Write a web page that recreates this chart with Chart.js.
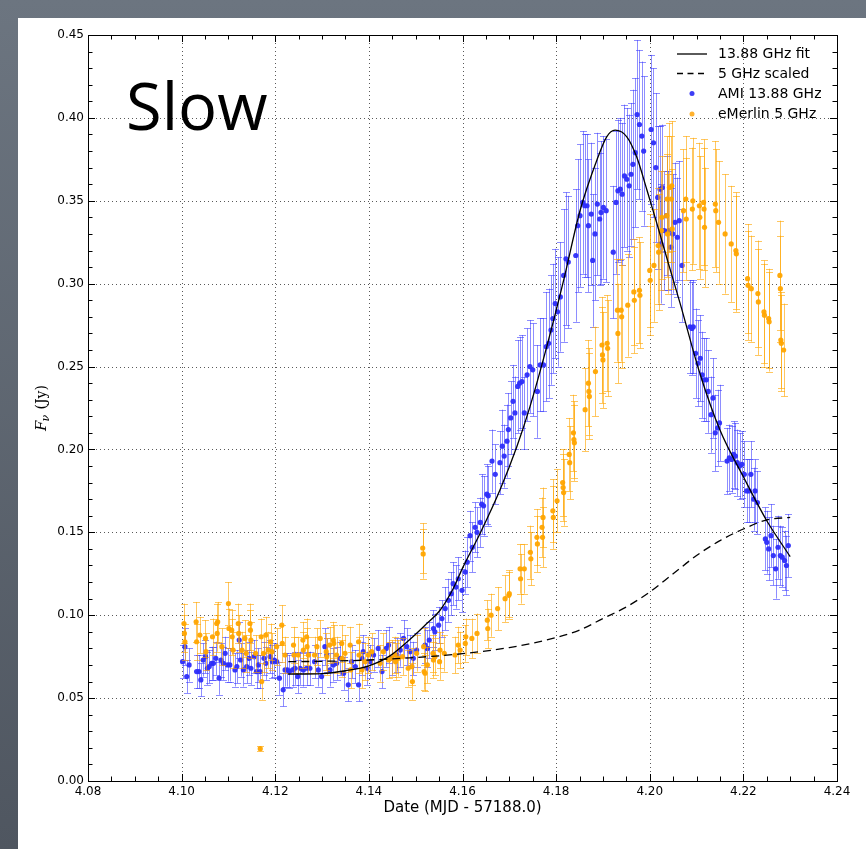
<!DOCTYPE html>
<html><head><meta charset="utf-8">
<script src="https://cdn.jsdelivr.net/npm/chart.js@4.4.0/dist/chart.umd.min.js"></script>
<style>
html,body{margin:0;padding:0;}
body{width:866px;height:849px;background:linear-gradient(#6c7580,#4f5660);position:relative;overflow:hidden;}
#card{position:absolute;left:18px;top:18px;width:848px;height:831px;background:#fff;}
canvas{position:absolute;left:0;top:0;}
</style></head>
<body><div id="card"></div><canvas id="c" width="866" height="849"></canvas>
<script>
const xTicks=[4.08,4.10,4.12,4.14,4.16,4.18,4.20,4.22,4.24];
const yTicks=[0.00,0.05,0.10,0.15,0.20,0.25,0.30,0.35,0.40,0.45];

const amiX=[
4.1002,4.1007,4.1011,4.1016,4.1032,4.1037,4.1041,4.1046,4.1051,4.1055,
4.1059,4.1064,4.1068,4.1073,4.1080,4.1084,4.1089,4.1093,4.1098,4.1103,
4.1114,4.1118,4.1123,4.1126,4.1132,4.1139,4.1144,4.1148,4.1155,4.1160,
4.1164,4.1168,4.1176,4.1180,4.1189,4.1194,4.1198,4.1203,4.1209,4.1217,
4.1221,4.1226,4.1230,4.1237,4.1242,4.1248,4.1253,4.1260,4.1267,4.1274,
4.1284,4.1292,4.1299,4.1306,4.1310,4.1317,4.1324,4.1331,4.1338,4.1346,
4.1356,4.1363,4.1371,4.1378,4.1385,4.1388,4.1396,4.1403,4.1410,4.1420,
4.1428,4.1437,4.1442,4.1449,4.1460,4.1467,4.1474,4.1481,4.1488,4.1495,
4.1502,4.1520,4.1525,4.1529,4.1538,4.1541,4.1549,4.1556,4.1563,4.1570,
4.1576,4.1580,4.1586,4.1591,4.1599,4.1606,4.1610,4.1616,4.1621,4.1627,
4.1631,4.1638,4.1641,4.1645,4.1652,4.1655,4.1663,4.1670,4.1680,4.1685,
4.1689,4.1695,4.1698,4.1703,4.1708,4.1712,4.1718,4.1722,4.1727,4.1732,
4.1738,4.1744,4.1750,4.1760,4.1766,4.1773,4.1779,4.1784,4.1789,4.1793,
4.1798,4.1803,4.1809,4.1816,4.1821,4.1826,4.1842,4.1846,4.1851,4.1857,
4.1861,4.1866,4.1869,4.1875,4.1878,4.1883,4.1888,4.1893,4.1896,4.1901,
4.1907,4.1922,4.1928,4.1932,4.1937,4.1941,4.1946,4.1951,4.1956,4.1960,
4.1964,4.1969,4.1973,4.1978,4.1983,4.1987,4.2003,4.2008,4.2013,4.2017,
4.2022,4.2024,4.2027,4.2031,4.2036,4.2040,4.2045,4.2049,4.2054,4.2059,
4.2063,4.2069,4.2086,4.2090,4.2093,4.2098,4.2103,4.2108,4.2112,4.2116,
4.2121,4.2125,4.2131,4.2135,4.2140,4.2145,4.2149,4.2165,4.2170,4.2175,
4.2179,4.2183,4.2187,4.2192,4.2197,4.2202,4.2207,4.2212,4.2216,4.2222,
4.2225,4.2230,4.2247,4.2250,4.2254,4.2259,4.2264,4.2269,4.2274,4.2279,
4.2283,4.2288,4.2292,4.2296];
const amiY=[
.072,.081,.063,.070,.066,.066,.061,.073,.075,.068,
.069,.071,.071,.074,.062,.073,.071,.077,.070,.070,
.067,.069,.085,.073,.067,.069,.074,.068,.075,.066,
.070,.066,.074,.071,.075,.072,.073,.072,.062,.055,
.067,.067,.066,.067,.068,.063,.068,.067,.068,.068,
.072,.067,.063,.081,.076,.067,.070,.071,.074,.065,
.058,.072,.069,.058,.074,.078,.068,.072,.076,.080,
.066,.080,.082,.074,.076,.079,.086,.081,.078,.074,
.079,.082,.080,.085,.092,.090,.094,.098,.104,.109,
.113,.119,.117,.122,.115,.126,.132,.148,.141,.153,
.150,.156,.167,.166,.173,.172,.193,.185,.192,.202,
.196,.205,.212,.219,.229,.222,.238,.240,.241,.222,
.245,.250,.248,.235,.251,.251,.262,.264,.272,.279,
.288,.283,.292,.305,.315,.313,.317,.335,.341,.349,
.347,.347,.335,.342,.314,.330,.348,.339,.343,.346,
.344,.319,.349,.356,.357,.354,.365,.363,.359,.366,
.372,.379,.402,.396,.389,.380,.393,.385,.370,.352,
.357,.324,.358,.332,.341,.332,.322,.330,.337,.328,
.338,.311,.274,.273,.274,.258,.252,.255,.245,.242,
.242,.235,.221,.231,.210,.213,.216,.193,.195,.194,
.197,.196,.192,.190,.191,.185,.175,.175,.185,.170,
.175,.168,.146,.144,.140,.148,.136,.128,.141,.136,
.135,.133,.130,.142];
const amiErr=[
.010,.011,.010,.010,.010,.010,.010,.010,.010,.010,
.010,.010,.010,.010,.010,.010,.010,.010,.010,.010,
.010,.010,.011,.010,.010,.010,.010,.010,.010,.010,
.010,.010,.010,.010,.010,.010,.010,.010,.010,.010,
.010,.010,.010,.010,.010,.010,.010,.010,.010,.010,
.010,.010,.010,.011,.010,.010,.010,.010,.010,.010,
.010,.010,.010,.010,.010,.010,.010,.010,.010,.011,
.010,.011,.011,.010,.010,.010,.011,.011,.010,.010,
.010,.011,.011,.011,.011,.011,.011,.011,.013,.013,
.013,.013,.013,.013,.013,.013,.015,.015,.015,.015,
.015,.015,.018,.018,.018,.018,.019,.018,.019,.022,
.019,.022,.022,.022,.022,.022,.028,.028,.028,.022,
.028,.028,.028,.028,.028,.028,.033,.033,.033,.033,
.033,.033,.033,.040,.040,.040,.040,.040,.043,.043,
.043,.043,.040,.043,.040,.040,.043,.040,.043,.043,
.043,.040,.043,.043,.043,.043,.043,.043,.043,.043,
.045,.045,.045,.045,.045,.045,.045,.045,.045,.043,
.038,.036,.038,.036,.036,.036,.036,.036,.036,.036,
.036,.034,.028,.028,.028,.027,.026,.026,.026,.025,
.025,.025,.023,.024,.023,.023,.023,.020,.020,.020,
.020,.020,.020,.020,.020,.020,.019,.019,.020,.019,
.019,.019,.019,.019,.019,.019,.018,.018,.019,.018,
.018,.018,.018,.019];

const emX=[
4.1005,4.1006,4.1007,4.1031,4.1032,4.1039,4.1051,4.1052,4.1066,4.1075,
4.1076,4.1077,4.1086,4.1100,4.1101,4.1107,4.1108,4.1110,4.1121,4.1122,
4.1129,4.1135,4.1138,4.1146,4.1147,4.1148,4.1158,4.1168,4.1170,4.1171,
4.1175,4.1180,4.1185,4.1190,4.1193,4.1203,4.1214,4.1215,4.1221,4.1239,
4.1240,4.1249,4.1259,4.1260,4.1267,4.1268,4.1271,4.1284,4.1289,4.1296,
4.1309,4.1310,4.1316,4.1324,4.1325,4.1331,4.1342,4.1343,4.1349,4.1360,
4.1361,4.1378,4.1379,4.1385,4.1392,4.1399,4.1406,4.1424,4.1431,4.1442,
4.1449,4.1456,4.1457,4.1463,4.1472,4.1484,4.1492,4.1493,4.1502,4.1515,
4.1516,4.1517,4.1518,4.1520,4.1525,4.1537,4.1538,4.1541,4.1551,4.1552,
4.1561,4.1584,4.1591,4.1595,4.1606,4.1607,4.1620,4.1631,4.1653,4.1654,
4.1661,4.1675,4.1691,4.1699,4.1700,4.1723,4.1724,4.1732,4.1745,4.1746,
4.1759,4.1760,4.1770,4.1771,4.1772,4.1793,4.1794,4.1802,4.1814,4.1815,
4.1816,4.1828,4.1829,4.1837,4.1838,4.1839,4.1862,4.1869,4.1870,4.1871,
4.1884,4.1898,4.1899,4.1900,4.1909,4.1910,4.1931,4.1932,4.1939,4.1940,
4.1953,4.1966,4.1967,4.1978,4.1979,4.2000,4.2001,4.2009,4.2018,4.2019,
4.2025,4.2026,4.2036,4.2037,4.2038,4.2042,4.2046,4.2047,4.2048,4.2072,
4.2077,4.2078,4.2091,4.2092,4.2106,4.2107,4.2115,4.2116,4.2117,4.2140,
4.2141,4.2147,4.2161,4.2174,4.2184,4.2185,4.2209,4.2210,4.2217,4.2231,
4.2232,4.2244,4.2245,4.2254,4.2255,4.2278,4.2279,4.2280,4.2281,4.2286];
const emY=[
.095,.089,.084,.096,.084,.088,.086,.078,.087,.095,
.089,.096,.081,.107,.092,.091,.087,.079,.095,.089,
.079,.086,.077,.095,.091,.085,.077,.0195,.087,.060,
.077,.088,.079,.084,.078,.081,.094,.083,.076,.082,
.076,.076,.085,.079,.087,.081,.076,.076,.081,.086,
.078,.075,.082,.085,.083,.076,.083,.074,.077,.082,
.067,.084,.076,.067,.072,.076,.078,.071,.078,.073,
.074,.076,.072,.074,.075,.068,.069,.060,.077,.1405,
.137,.081,.066,.065,.070,.077,.073,.075,.072,.079,
.077,.076,.082,.079,.083,.087,.086,.089,.097,.092,
.100,.104,.110,.112,.113,.128,.122,.128,.138,.134,
.147,.143,.153,.147,.159,.163,.159,.169,.180,.177,
.174,.197,.192,.210,.206,.204,.224,.240,.235,.232,
.247,.263,.257,.254,.264,.261,.284,.270,.284,.280,
.287,.295,.290,.296,.293,.308,.302,.311,.323,.319,
.332,.340,.341,.351,.330,.358,.351,.359,.333,.344,
.351,.339,.345,.350,.347,.340,.349,.345,.334,.348,
.344,.337,.330,.324,.320,.318,.303,.299,.297,.294,
.289,.283,.281,.279,.277,.305,.297,.266,.264,.260];
const emErr=[
.012,.011,.011,.012,.011,.011,.011,.011,.011,.012,
.011,.012,.011,.013,.012,.012,.011,.011,.012,.011,
.011,.011,.011,.012,.012,.011,.011,.0015,.011,.011,
.011,.011,.011,.011,.011,.011,.012,.011,.011,.011,
.011,.011,.011,.011,.011,.011,.011,.011,.011,.011,
.011,.011,.011,.011,.011,.011,.011,.011,.011,.011,
.011,.011,.011,.011,.011,.011,.011,.011,.011,.011,
.011,.011,.011,.011,.011,.011,.011,.011,.011,.015,
.015,.011,.011,.011,.011,.011,.011,.011,.011,.011,
.011,.011,.011,.011,.011,.011,.012,.012,.012,.012,
.013,.013,.014,.014,.014,.015,.015,.015,.016,.016,
.017,.017,.018,.018,.018,.019,.019,.019,.020,.020,
.020,.022,.022,.023,.023,.023,.025,.026,.026,.026,
.027,.029,.029,.029,.029,.029,.031,.030,.031,.031,
.031,.032,.032,.032,.032,.034,.033,.034,.035,.035,
.036,.037,.037,.038,.036,.039,.038,.039,.036,.037,
.038,.037,.037,.038,.038,.037,.038,.037,.036,.038,
.037,.037,.036,.035,.035,.035,.033,.033,.032,.032,
.032,.031,.031,.030,.030,.033,.032,.029,.029,.028];

const fitX=[4.1227,4.1300,4.1350,4.1400,4.1445,4.1488,4.1520,4.1552,4.1580,4.1601,4.1638,4.1680,4.1716,4.1744,4.1780,4.1816,4.1851,4.1887,4.1908,4.1926,4.1951,4.1972,4.1994,4.2015,4.2040,4.2065,4.2107,4.2150,4.2200,4.2250,4.2300];
const fitY=[0.0645,0.0648,0.0665,0.0695,0.0755,0.0855,0.0940,0.1030,0.1160,0.1290,0.1496,0.1755,0.2016,0.2257,0.2620,0.3020,0.3440,0.3745,0.3886,0.3926,0.3886,0.3765,0.3565,0.3365,0.3120,0.2880,0.2460,0.2117,0.1835,0.1570,0.1353];
const scaledX=[4.1228,4.1300,4.1400,4.1500,4.1600,4.1700,4.1800,4.1850,4.1900,4.1950,4.2000,4.2050,4.2100,4.2150,4.2200,4.2250,4.2300];
const scaledY=[0.0720,0.0722,0.0730,0.0745,0.0768,0.0805,0.0865,0.0910,0.0980,0.1050,0.1140,0.1250,0.1360,0.1450,0.1520,0.1575,0.1590];

const legendLabels=['13.88 GHz fit','5 GHz scaled','AMI 13.88 GHz','eMerlin 5 GHz'];

const pts=(xs,ys)=>xs.map((x,i)=>({x:x,y:ys[i]}));

const decor={
  id:'decor',
  beforeDatasetsDraw(chart){
    const ctx=chart.ctx, xs=chart.scales.x, ys=chart.scales.y, a=chart.chartArea;
    ctx.save();
    ctx.strokeStyle='rgba(0,0,0,0.65)'; ctx.lineWidth=1; ctx.setLineDash([1,3]);
    xTicks.forEach(v=>{const p=Math.round(xs.getPixelForValue(v))+0.5; if(p<a.left+2||p>a.right-2) return;
      ctx.beginPath(); ctx.moveTo(p,a.top); ctx.lineTo(p,a.bottom); ctx.stroke();});
    yTicks.forEach(v=>{const p=Math.round(ys.getPixelForValue(v))+0.5; if(p<a.top+2||p>a.bottom-2) return;
      ctx.beginPath(); ctx.moveTo(a.left,p); ctx.lineTo(a.right,p); ctx.stroke();});
    ctx.restore();
  },
  beforeDatasetDraw(chart,args){
    const ds=chart.data.datasets[args.index]; if(!ds.errors) return;
    const ctx=chart.ctx, xs=chart.scales.x, ys=chart.scales.y, a=chart.chartArea;
    ctx.save();
    ctx.beginPath(); ctx.rect(a.left,a.top,a.right-a.left,a.bottom-a.top); ctx.clip();
    ctx.strokeStyle=ds.errColor; ctx.lineWidth=1;
    ds.data.forEach((p,i)=>{
      const e=ds.errors[i]; if(e==null) return;
      const x=Math.round(xs.getPixelForValue(p.x))+0.5;
      const y1=ys.getPixelForValue(p.y+e), y2=ys.getPixelForValue(p.y-e);
      ctx.beginPath();
      ctx.moveTo(x,y1); ctx.lineTo(x,y2);
      ctx.moveTo(x-3.5,Math.round(y1)+0.5); ctx.lineTo(x+3.5,Math.round(y1)+0.5);
      ctx.moveTo(x-3.5,Math.round(y2)+0.5); ctx.lineTo(x+3.5,Math.round(y2)+0.5);
      ctx.stroke();
    });
    ctx.restore();
  },
  afterDraw(chart){
    const ctx=chart.ctx, xs=chart.scales.x, ys=chart.scales.y, a=chart.chartArea;
    ctx.save();
    ctx.strokeStyle='#000'; ctx.lineWidth=1;
    ctx.strokeRect(Math.round(a.left)+0.5,Math.round(a.top)+0.5,Math.round(a.right-a.left),Math.round(a.bottom-a.top));
    ctx.beginPath();
    for(let i=0;i<=32;i++){
      const v=4.08+i*0.005; const p=Math.round(xs.getPixelForValue(v))+0.5;
      const L=(i%4===0)?7:4.5;
      ctx.moveTo(p,a.bottom); ctx.lineTo(p,a.bottom-L);
      ctx.moveTo(p,a.top); ctx.lineTo(p,a.top+L);
    }
    for(let i=0;i<=45;i++){
      const v=i*0.01; const p=Math.round(ys.getPixelForValue(v))+0.5;
      const L=(i%5===0)?7:4.5;
      ctx.moveTo(a.left,p); ctx.lineTo(a.left+L,p);
      ctx.moveTo(a.right,p); ctx.lineTo(a.right-L,p);
    }
    ctx.stroke();

    const rows=[54,73.5,93.5,114];
    ctx.font='14px "DejaVu Sans"'; ctx.fillStyle='#000'; ctx.textBaseline='middle'; ctx.textAlign='left';
    ctx.lineWidth=1.3; ctx.strokeStyle='#000';
    ctx.beginPath(); ctx.moveTo(677,rows[0]); ctx.lineTo(707,rows[0]); ctx.stroke();
    ctx.setLineDash([6,4.5]);
    ctx.beginPath(); ctx.moveTo(677,rows[1]); ctx.lineTo(707,rows[1]); ctx.stroke();
    ctx.setLineDash([]);
    ctx.fillStyle='#3d3df5'; ctx.beginPath(); ctx.arc(692,rows[2],2.5,0,Math.PI*2); ctx.fill();
    ctx.fillStyle='#ffb12e'; ctx.beginPath(); ctx.arc(692,rows[3],2.5,0,Math.PI*2); ctx.fill();
    ctx.fillStyle='#000';
    legendLabels.forEach((t,i)=>ctx.fillText(t,718,rows[i]+0.5));

    ctx.font='65px "Open Sans"'; ctx.textBaseline='alphabetic';
    ctx.fillText('Slow',126,130);

    ctx.font='15px "DejaVu Sans"'; ctx.textAlign='center';
    ctx.fillText('Date (MJD - 57188.0)',(a.left+a.right)/2,812);

    ctx.translate(46,408); ctx.rotate(-Math.PI/2);
    const f1='italic 15px "DejaVu Serif"', f2='italic 11px "DejaVu Serif"', f3='14px "DejaVu Serif"';
    ctx.textAlign='left';
    ctx.font=f1; const w1=ctx.measureText('F').width;
    ctx.font=f2; const w2=ctx.measureText('\u03BD').width;
    ctx.font=f3; const w3=ctx.measureText(' (Jy)').width;
    let sx=-(w1+w2+w3)/2;
    ctx.font=f1; ctx.fillText('F',sx,0); sx+=w1-1;
    ctx.font=f2; ctx.fillText('\u03BD',sx,3); sx+=w2+1;
    ctx.font=f3; ctx.fillText(' (Jy)',sx,0);
    ctx.restore();
  }
};

new Chart(document.getElementById('c').getContext('2d'),{
  type:'scatter',
  data:{datasets:[
    {label:legendLabels[0],data:pts(fitX,fitY),showLine:true,borderColor:'#000',borderWidth:1.3,pointRadius:0,cubicInterpolationMode:'monotone',fill:false},
    {label:legendLabels[1],data:pts(scaledX,scaledY),showLine:true,borderColor:'#000',borderWidth:1.3,borderDash:[8,5],pointRadius:0,cubicInterpolationMode:'monotone',fill:false},
    {label:legendLabels[3],data:pts(emX,emY),errors:emErr,errColor:'rgba(255,165,0,0.62)',pointRadius:2.6,pointBackgroundColor:'rgba(255,165,0,0.95)',pointBorderWidth:0,showLine:false},
    {label:legendLabels[2],data:pts(amiX,amiY),errors:amiErr,errColor:'rgba(50,50,255,0.55)',pointRadius:2.6,pointBackgroundColor:'rgba(45,45,250,0.95)',pointBorderWidth:0,showLine:false}
  ]},
  options:{
    responsive:false,animation:false,
    layout:{padding:{left:0,top:35,right:29,bottom:0}},
    plugins:{legend:{display:false},tooltip:{enabled:false}},
    scales:{
      x:{type:'linear',min:4.08,max:4.24,
        afterBuildTicks:s=>{s.ticks=xTicks.map(v=>({value:v}));},
        afterFit:s=>{s.height=68;},
        ticks:{callback:v=>Number(v).toFixed(2),font:{family:'DejaVu Sans',size:12},color:'#000',padding:4,autoSkip:false,maxRotation:0},
        grid:{display:false,drawTicks:false},border:{display:false}},
      y:{type:'linear',min:0,max:0.45,
        afterBuildTicks:s=>{s.ticks=yTicks.map(v=>({value:v}));},
        afterFit:s=>{s.width=88;},
        ticks:{callback:v=>Number(v).toFixed(2),font:{family:'DejaVu Sans',size:12},color:'#000',padding:4,autoSkip:false},
        grid:{display:false,drawTicks:false},border:{display:false}}
    }
  },
  plugins:[decor]
});
</script>
</body></html>
